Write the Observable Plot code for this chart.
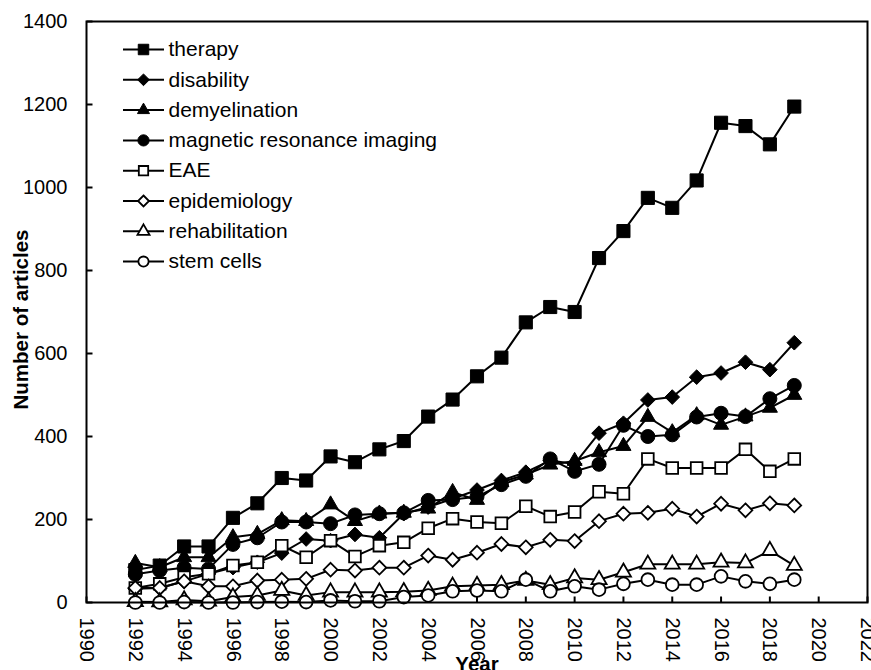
<!DOCTYPE html>
<html>
<head>
<meta charset="utf-8">
<script src="https://cdn.jsdelivr.net/npm/d3@7"></script>
<script src="https://cdn.jsdelivr.net/npm/@observablehq/plot@0.6"></script>
<style>
  html, body { margin: 0; padding: 0; background: #fff; }
  #chart svg { display: block; }
</style>
</head>
<body>
<div id="chart"></div>
<script>
// ---- data ----
const years = [1992,1993,1994,1995,1996,1997,1998,1999,2000,2001,2002,2003,2004,2005,2006,2007,2008,2009,2010,2011,2012,2013,2014,2015,2016,2017,2018,2019];
const therapy        = [78, 89, 135, 135, 204, 239, 300, 294, 352, 338, 369, 389, 448, 489, 545, 590, 675, 712, 700, 830, 895, 975, 951, 1017, 1156, 1148, 1104, 1195];
const disability     = [33, 35, 51, 69, 84, 97, 119, 153, 149, 164, 156, 214, 230, 250, 271, 294, 314, 342, 334, 408, 432, 488, 495, 543, 553, 579, 561, 626];
const demyelination  = [95, 85, 109, 109, 157, 165, 198, 196, 236, 196, 214, 216, 226, 266, 247, 290, 308, 332, 341, 362, 377, 447, 410, 451, 428, 448, 469, 500];
const mri            = [68, 77, 84, 81, 140, 156, 194, 194, 190, 211, 214, 216, 246, 248, 255, 284, 304, 346, 316, 333, 427, 400, 404, 447, 456, 448, 491, 523];
const eae            = [35, 45, 61, 69, 89, 97, 137, 109, 149, 111, 137, 145, 179, 202, 194, 191, 232, 207, 218, 267, 262, 346, 324, 324, 324, 369, 316, 346];
const epidemiology   = [35, 35, 51, 39, 39, 53, 55, 57, 79, 77, 84, 84, 113, 103, 120, 141, 133, 151, 148, 196, 214, 216, 226, 207, 238, 222, 239, 234];
const rehabilitation = [2, 1, 6, 3, 13, 17, 29, 17, 25, 25, 25, 26, 29, 39, 41, 43, 53, 43, 59, 55, 73, 92, 92, 92, 97, 95, 125, 89];
const stemCells      = [0, 0, 1, 0, 0, 1, 2, 1, 5, 3, 3, 13, 17, 27, 29, 27, 55, 27, 39, 31, 45, 55, 43, 43, 63, 51, 45, 55];

const seriesNames = ["therapy","disability","demyelination","magnetic resonance imaging","EAE","epidemiology","rehabilitation","stem cells"];
const seriesValues = [therapy, disability, demyelination, mri, eae, epidemiology, rehabilitation, stemCells];
const xTicks = [1990,1992,1994,1996,1998,2000,2002,2004,2006,2008,2010,2012,2014,2016,2018,2020,2022];
const yTicks = [0,200,400,600,800,1000,1200,1400];
const xTitle = "Year";
const yTitle = "Number of articles";

// ---- styles (marker per series) ----
const markerStyles = [
  {symbol: "square",   r: 7.4, fill: "black", stroke: "black", strokeWidth: 1},
  {symbol: "diamond2", r: 6.6, fill: "black", stroke: "black", strokeWidth: 1},
  {symbol: "triangle", r: 5.6, fill: "black", stroke: "black", strokeWidth: 1},
  {symbol: "circle",   r: 7,   fill: "black", stroke: "black", strokeWidth: 1},
  {symbol: "square",   r: 6.6, fill: "white", stroke: "black", strokeWidth: 1.8},
  {symbol: "diamond2", r: 6.2, fill: "white", stroke: "black", strokeWidth: 1.8},
  {symbol: "triangle", r: 5.6, fill: "white", stroke: "black", strokeWidth: 1.8},
  {symbol: "circle",   r: 6.4, fill: "white", stroke: "black", strokeWidth: 1.8}
];

const rows = [];
seriesNames.forEach((name, s) => {
  years.forEach((yr, i) => rows.push({series: name, s, year: yr, value: seriesValues[s][i]}));
});

const font = "'Liberation Sans', Arial, Helvetica, sans-serif";
const lineSym = {draw(ctx) { ctx.moveTo(-20.5, 0); ctx.lineTo(20.5, 0); }};
const xTickSym = {draw(ctx) { ctx.moveTo(0, 0); ctx.lineTo(0, -6); }};
const yTickSym = {draw(ctx) { ctx.moveTo(0, 0); ctx.lineTo(6, 0); }};

const marks = [];
// ticks
marks.push(Plot.dot(xTicks, {x: d => d, y: 0, symbol: xTickSym, stroke: "black", strokeWidth: 2, fill: "none"}));
marks.push(Plot.dot(yTicks, {x: 1990, y: d => d, symbol: yTickSym, stroke: "black", strokeWidth: 2, fill: "none"}));
// tick labels
marks.push(Plot.text(xTicks, {x: d => d, y: 0, text: d => String(d), rotate: 90, textAnchor: "start", lineAnchor: "middle", dy: 15, fontSize: 20, fill: "black"}));
marks.push(Plot.text(yTicks, {x: 1990, y: d => d, text: d => String(d), textAnchor: "end", lineAnchor: "middle", dx: -19, fontSize: 20, fill: "black"}));
// series
seriesNames.forEach((name, s) => {
  const data = rows.filter(r => r.s === s);
  const m = markerStyles[s];
  marks.push(Plot.line(data, {x: "year", y: "value", stroke: "black", strokeWidth: 2}));
  marks.push(Plot.dot(data, {x: "year", y: "value", symbol: m.symbol, r: m.r, fill: m.fill, stroke: m.stroke, strokeWidth: m.strokeWidth}));
  // legend entry
  const dy = 28 + s * 30.3;
  marks.push(Plot.dot([name], {frameAnchor: "top-left", dx: 57, dy, symbol: lineSym, stroke: "black", strokeWidth: 2, fill: "none"}));
  marks.push(Plot.dot([name], {frameAnchor: "top-left", dx: 57, dy, symbol: m.symbol, r: m.r * 0.8, fill: m.fill, stroke: m.stroke, strokeWidth: m.strokeWidth}));
  marks.push(Plot.text([name], {frameAnchor: "top-left", dx: 82, dy, text: d => d, textAnchor: "start", lineAnchor: "middle", fontSize: 21, fill: "black"}));
});
// frame
marks.push(Plot.frame({stroke: "black", strokeWidth: 2}));
// axis titles
marks.push(Plot.text([xTitle], {frameAnchor: "bottom", dy: 68, text: d => d, textAnchor: "middle", lineAnchor: "bottom", fontSize: 20.5, fontWeight: "bold", fill: "black"}));
marks.push(Plot.text([yTitle], {frameAnchor: "left", dx: -59, dy: 7.5, text: d => d, rotate: -90, textAnchor: "middle", lineAnchor: "bottom", fontSize: 20.5, fontWeight: "bold", fill: "black"}));

const chart = Plot.plot({
  width: 871,
  height: 670,
  marginLeft: 86,
  marginRight: 4,
  marginTop: 21,
  marginBottom: 68,
  style: {fontFamily: font, background: "white", color: "black", overflow: "visible"},
  x: {domain: [1990, 2022], axis: null},
  y: {domain: [0, 1400], axis: null},
  marks
});
document.getElementById("chart").appendChild(chart);
</script>
</body>
</html>
